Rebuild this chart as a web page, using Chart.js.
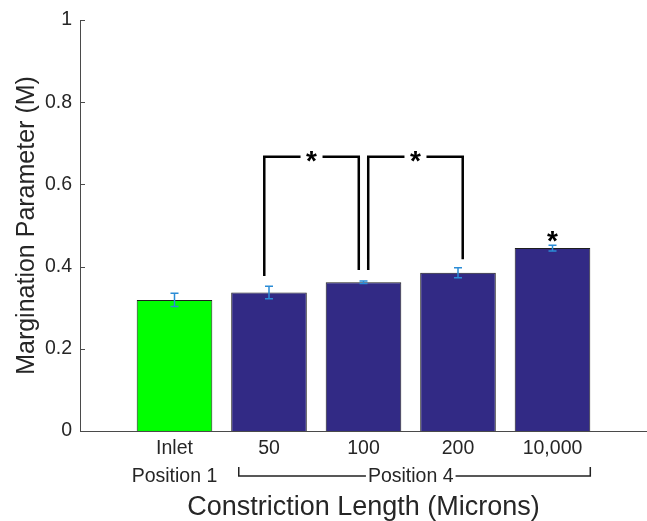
<!DOCTYPE html>
<html>
<head>
<meta charset="utf-8">
<script src="https://cdn.jsdelivr.net/npm/chart.js@4"></script>
<style>
  html, body { margin: 0; padding: 0; background: #fff; }
  #wrap { width: 647px; height: 521px; }
</style>
</head>
<body>
<div id="wrap"><canvas id="chart" width="647" height="521"></canvas></div>
<script>
// values
const categories = ['Inlet', '50', '100', '200', '10,000'];
const margination = [0.319, 0.337, 0.362, 0.385, 0.445];
const errors = [0.016, 0.015, 0.003, 0.012, 0.007];
const barColors = ['#00ff00', '#322a85', '#322a85', '#322a85', '#322a85'];
const yTicks = [0, 0.2, 0.4, 0.6, 0.8, 1];

// significance brackets: [from bar, to bar, left foot, right foot]
const sigBrackets = [
  [2, 3, 0.377, 0.392],
  [3, 4, 0.392, 0.418],
];
const bracketTop = 0.667;
const starOverBar = [[5, 0.473]];

const FONT = '"Liberation Sans", Arial, sans-serif';
const TXT = '#262626';

const annotations = {
  id: 'annotations',
  afterDatasetsDraw(chart) {
    const { ctx, scales: { x, y }, chartArea } = chart;
    ctx.save();

    // inward tick marks on y axis
    ctx.strokeStyle = '#4a4a4a';
    ctx.lineWidth = 1;
    yTicks.forEach((t) => {
      const py = Math.round(y.getPixelForValue(t)) + 0.5;
      ctx.beginPath();
      ctx.moveTo(chartArea.left, py);
      ctx.lineTo(chartArea.left + 5, py);
      ctx.stroke();
    });

    // error bars
    ctx.strokeStyle = '#2b8cd6';
    ctx.lineWidth = 1.5;
    margination.forEach((v, i) => {
      const px = x.getPixelForValue(i + 1);
      const top = y.getPixelForValue(v + errors[i]);
      const bot = y.getPixelForValue(v - errors[i]);
      ctx.beginPath();
      ctx.moveTo(px, top); ctx.lineTo(px, bot);
      ctx.moveTo(px - 4, top); ctx.lineTo(px + 4, top);
      ctx.moveTo(px - 4, bot); ctx.lineTo(px + 4, bot);
      ctx.stroke();
    });

    // stars
    ctx.fillStyle = '#000';
    ctx.font = 'bold 28px ' + FONT;
    ctx.textAlign = 'center';
    ctx.textBaseline = 'alphabetic';
    const m = ctx.measureText('*');
    const starShift = (m.actualBoundingBoxAscent - m.actualBoundingBoxDescent) / 2;
    const drawStar = (cx, cy) => ctx.fillText('*', cx, cy + starShift);

    // brackets
    ctx.strokeStyle = '#000';
    ctx.lineWidth = 2.5;
    ctx.lineCap = 'butt';
    sigBrackets.forEach(([a, b, fa, fb], k) => {
      const shift = k === 0 ? -0.05 : 0.05;
      const xa = x.getPixelForValue(a + shift);
      const xb = x.getPixelForValue(b + shift);
      const yt = y.getPixelForValue(bracketTop);
      const xm = (xa + xb) / 2;
      ctx.beginPath();
      ctx.moveTo(xa, y.getPixelForValue(fa));
      ctx.lineTo(xa, yt);
      ctx.lineTo(xm - 11, yt);
      ctx.moveTo(xm + 11, yt);
      ctx.lineTo(xb, yt);
      ctx.lineTo(xb, y.getPixelForValue(fb));
      ctx.stroke();
      drawStar(xm, yt);
    });
    starOverBar.forEach(([b, v]) => drawStar(x.getPixelForValue(b), y.getPixelForValue(v)));

    // position labels under the tick labels
    const rowY = chartArea.bottom + 46;
    ctx.font = '19.5px ' + FONT;
    ctx.fillStyle = TXT;
    ctx.textBaseline = 'middle';
    ctx.fillText('Position 1', x.getPixelForValue(1), rowY);
    const p4x = x.getPixelForValue(3.5);
    ctx.fillText('Position 4', p4x, rowY);
    const half = ctx.measureText('Position 4').width / 2 + 2;
    const lx = x.getPixelForValue(1.68);
    const rx = x.getPixelForValue(5.4);
    const ly = rowY - 1;
    ctx.strokeStyle = '#222';
    ctx.lineWidth = 1.5;
    ctx.beginPath();
    ctx.moveTo(lx, ly - 9); ctx.lineTo(lx, ly); ctx.lineTo(p4x - half, ly);
    ctx.moveTo(p4x + half, ly); ctx.lineTo(rx, ly); ctx.lineTo(rx, ly - 9);
    ctx.stroke();

    ctx.restore();
  }
};

new Chart(document.getElementById('chart'), {
  type: 'bar',
  data: {
    datasets: [{
      data: margination.map((v, i) => ({ x: i + 1, y: v })),
      backgroundColor: barColors,
      borderColor: '#1e1e1e',
      borderWidth: 1,
      barPercentage: 1,
      categoryPercentage: 0.8,
    }],
  },
  options: {
    responsive: false,
    animation: false,
    layout: { padding: { top: 20, right: 0, bottom: 0, left: 0 } },
    plugins: { legend: { display: false }, tooltip: { enabled: false } },
    scales: {
      x: {
        type: 'linear',
        min: 0,
        max: 6,
        offset: false,
        afterBuildTicks: (scale) => {
          scale.ticks = categories.map((c, i) => ({ value: i + 1 }));
        },
        afterFit: (scale) => { scale.height = 90; },
        grid: { display: false, drawTicks: false },
        border: { display: true, color: '#4a4a4a', width: 1 },
        ticks: {
          autoSkip: false,
          maxRotation: 0,
          padding: 6,
          color: TXT,
          font: { family: FONT, size: 19.5 },
          callback: (v) => categories[v - 1] ?? '',
        },
        title: {
          display: true,
          text: 'Constriction Length (Microns)',
          color: TXT,
          font: { family: FONT, size: 27, lineHeight: 1 },
          padding: { top: 0, bottom: 0 },
        },
      },
      y: {
        min: 0,
        max: 1,
        afterBuildTicks: (scale) => {
          scale.ticks = yTicks.map((v) => ({ value: v }));
        },
        afterFit: (scale) => { scale.width = 80; },
        grid: { display: false, drawTicks: false },
        border: { display: true, color: '#4a4a4a', width: 1 },
        ticks: {
          padding: 8,
          color: TXT,
          font: { family: FONT, size: 19.5 },
          callback: (v) => String(v),
        },
        title: {
          display: true,
          text: 'Margination Parameter (M)',
          color: TXT,
          font: { family: FONT, size: 25, lineHeight: 1.2 },
          padding: { top: 12, bottom: 0 },
        },
      },
    },
  },
  plugins: [annotations],
});
</script>
</body>
</html>
